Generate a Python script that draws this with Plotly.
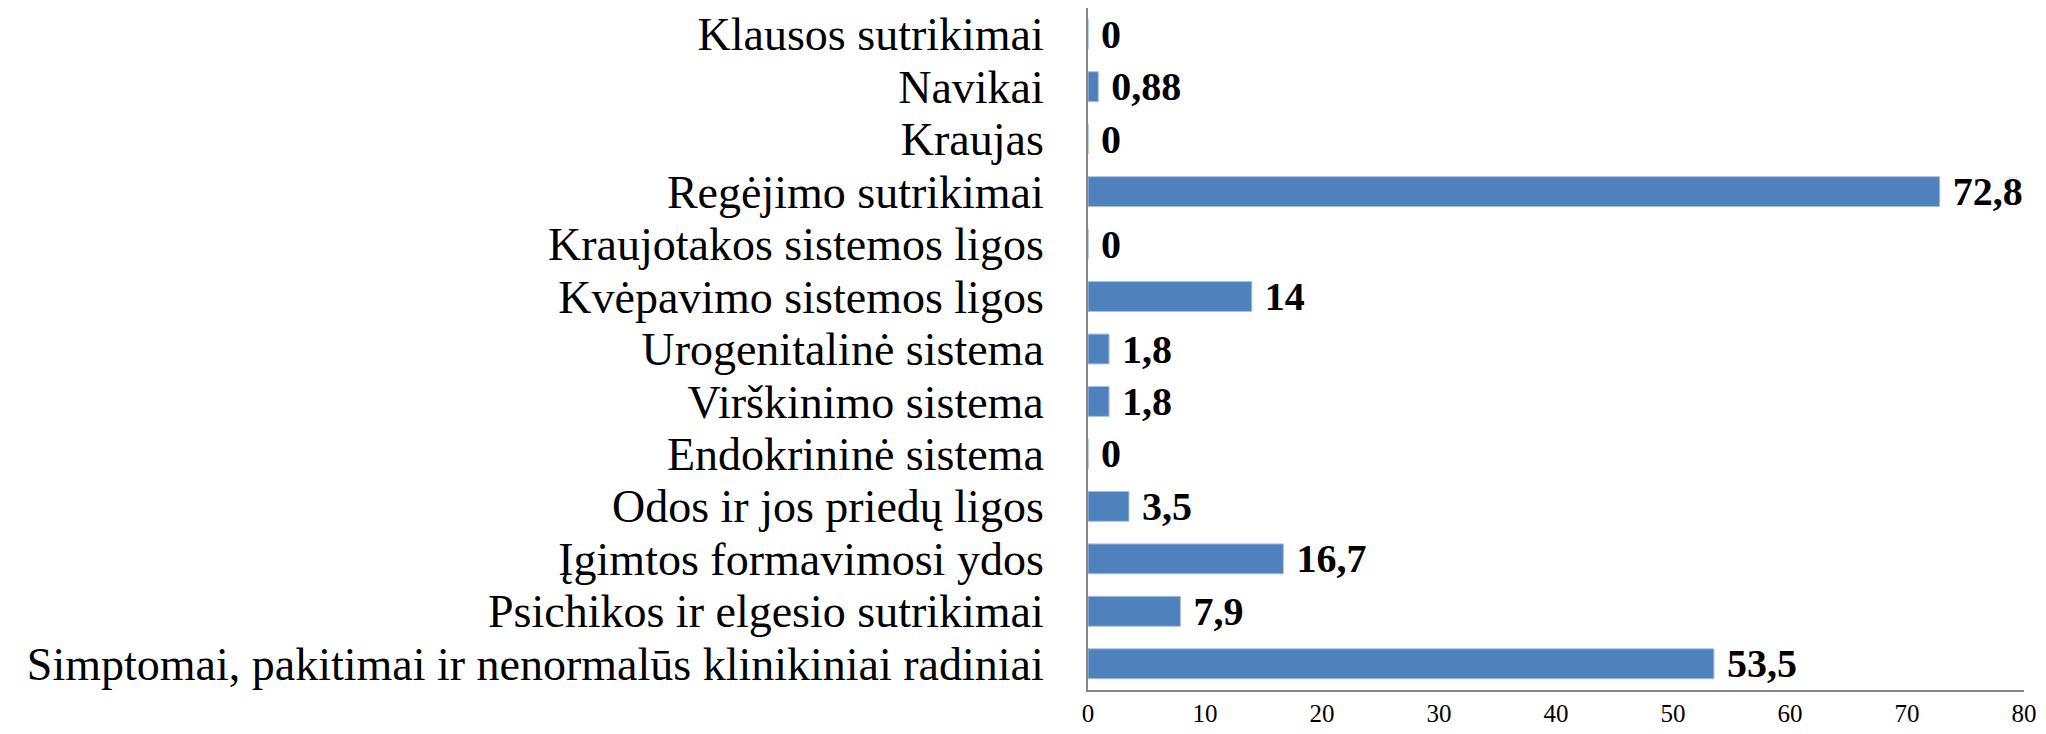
import plotly.graph_objects as go

# categories in the order shown, top to bottom
categories = [
    "Klausos sutrikimai",
    "Navikai",
    "Kraujas",
    "Regėjimo sutrikimai",
    "Kraujotakos sistemos ligos",
    "Kvėpavimo sistemos ligos",
    "Urogenitalinė sistema",
    "Virškinimo sistema",
    "Endokrininė sistema",
    "Odos ir jos priedų ligos",
    "Įgimtos formavimosi ydos",
    "Psichikos ir elgesio sutrikimai",
    "Simptomai, pakitimai ir nenormalūs klinikiniai radiniai",
]
values = [0, 0.88, 0, 72.8, 0, 14, 1.8, 1.8, 0, 3.5, 16.7, 7.9, 53.5]
x_ticks = [0, 10, 20, 30, 40, 50, 60, 70, 80]

serif = "Liberation Serif"

fig = go.Figure()
fig.add_trace(go.Bar(
    x=values, y=categories, orientation="h",
    marker=dict(color="#4F81BD", line=dict(color="#A9C1DF", width=1)),
    width=0.57,
    texttemplate=" %{x}", textposition="outside",
    constraintext="none", cliponaxis=False,
    textfont=dict(family=serif, size=40, color="black", weight="bold"),
    hoverinfo="skip",
))

# page body has an 8px margin, so margins are shifted by that amount
fig.update_layout(
    width=2046, height=734,
    margin=dict(l=1080, r=30, t=0, b=52),
    paper_bgcolor="white", plot_bgcolor="white",
    separators=",.",
    showlegend=False,
    font=dict(family=serif, color="black"),
)
fig.update_xaxes(
    range=[0, 80], tickvals=x_ticks, showgrid=False, zeroline=False,
    showline=True, linecolor="#868686", linewidth=2, automargin=False,
    tickfont=dict(family=serif, size=25), ticklabelstandoff=0,
)
fig.update_yaxes(
    autorange="reversed", showgrid=False, zeroline=False,
    tickmode="array", tickvals=categories, automargin=False,
    showline=True, linecolor="#868686", linewidth=2,
    tickfont=dict(family=serif, size=46), ticklabelstandoff=33,
)

fig.write_html("out.html")
